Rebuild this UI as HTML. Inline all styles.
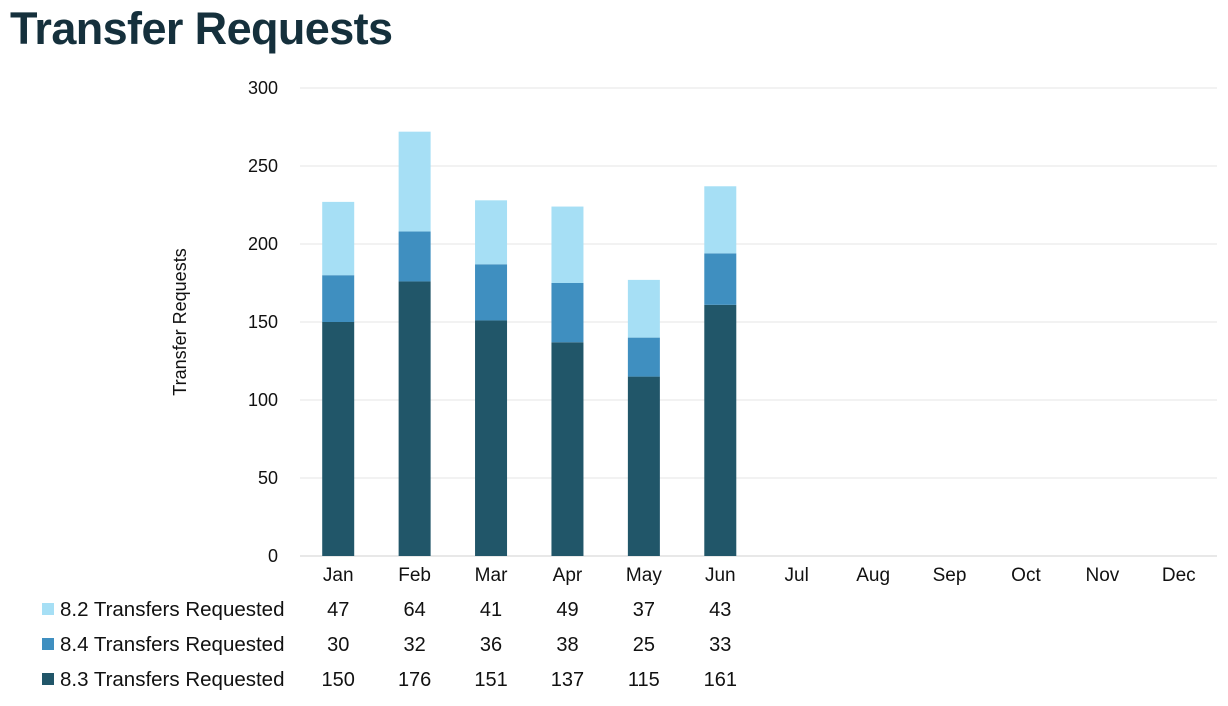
<!DOCTYPE html>
<html><head><meta charset="utf-8"><style>
body{margin:0;background:#fff;width:1228px;height:706px;overflow:hidden;font-family:"Liberation Sans",sans-serif}
#title{position:absolute;left:10px;top:3px;font-size:45px;font-weight:bold;color:#15303c;margin:0;letter-spacing:-0.6px}
</style></head><body>
<h1 id="title">Transfer Requests</h1>
<svg id="chart" width="1228" height="706" style="position:absolute;left:0;top:0"></svg>
<script>
const months=["Jan","Feb","Mar","Apr","May","Jun","Jul","Aug","Sep","Oct","Nov","Dec"];
const s83=[150,176,151,137,115,161];
const s84=[30,32,36,38,25,33];
const s82=[47,64,41,49,37,43];
const yTicks=[0,50,100,150,200,250,300];
const NS="http://www.w3.org/2000/svg";
const svg=document.getElementById('chart');
const L=300,R=1217,Y0=556,Y1=88,maxV=300;
const bw=(R-L)/months.length;
const x=i=>L+bw*(i+0.5);
const y=v=>Y0-(v/maxV)*(Y0-Y1);
function mk(t,a,txt){const e=document.createElementNS(NS,t);for(const k in a)e.setAttribute(k,a[k]);if(txt!=null)e.textContent=txt;svg.appendChild(e);return e;}
yTicks.forEach(t=>{
 const g=mk('line',{x1:L,x2:R,y1:y(t),y2:y(t),stroke:t===0?'#d0d0d0':'#e4e4e4','stroke-width':1});
 
 
 const l=mk('text',{x:278,y:y(t)+6,'text-anchor':'end','font-size':18,fill:'#111'},t);
 
 
});
const yt=mk('text',{x:0,y:0,transform:'translate(186,322) rotate(-90)','text-anchor':'middle','font-size':18,fill:'#111'},'Transfer Requests');


const series=[{d:s83,c:'#215669',n:'8.3 Transfers Requested'},{d:s84,c:'#3f8fc0',n:'8.4 Transfers Requested'},{d:s82,c:'#a6dff5',n:'8.2 Transfers Requested'}];
const BW=32;
s83.forEach((_,i)=>{
 let base=0;
 series.forEach((s,k)=>{
  const v=s.d[i];
  const r=mk('rect',{x:x(i)-BW/2,y:y(base+v),width:BW,height:y(base)-y(base+v),fill:s.c});
  
  
  base+=v;
 });
});
months.forEach((m,i)=>{
 const t=mk('text',{x:x(i),y:581,'text-anchor':'middle','font-size':19,fill:'#111'},m);
 
 
});
const rows=[series[2],series[1],series[0]];
rows.forEach((s,r)=>{
 const cy=609+r*35;
 const sw=mk('rect',{x:42,y:cy-6,width:12,height:12,fill:s.c});
 
 
 const lt=mk('text',{x:60,y:cy+7,'font-size':20.5,fill:'#111'},s.n);
 
 
 s.d.forEach((v,i)=>{
  const vt=mk('text',{x:x(i),y:cy+7,'text-anchor':'middle','font-size':20,fill:'#111'},v);
  
  
 });
});
</script>
</body></html>
